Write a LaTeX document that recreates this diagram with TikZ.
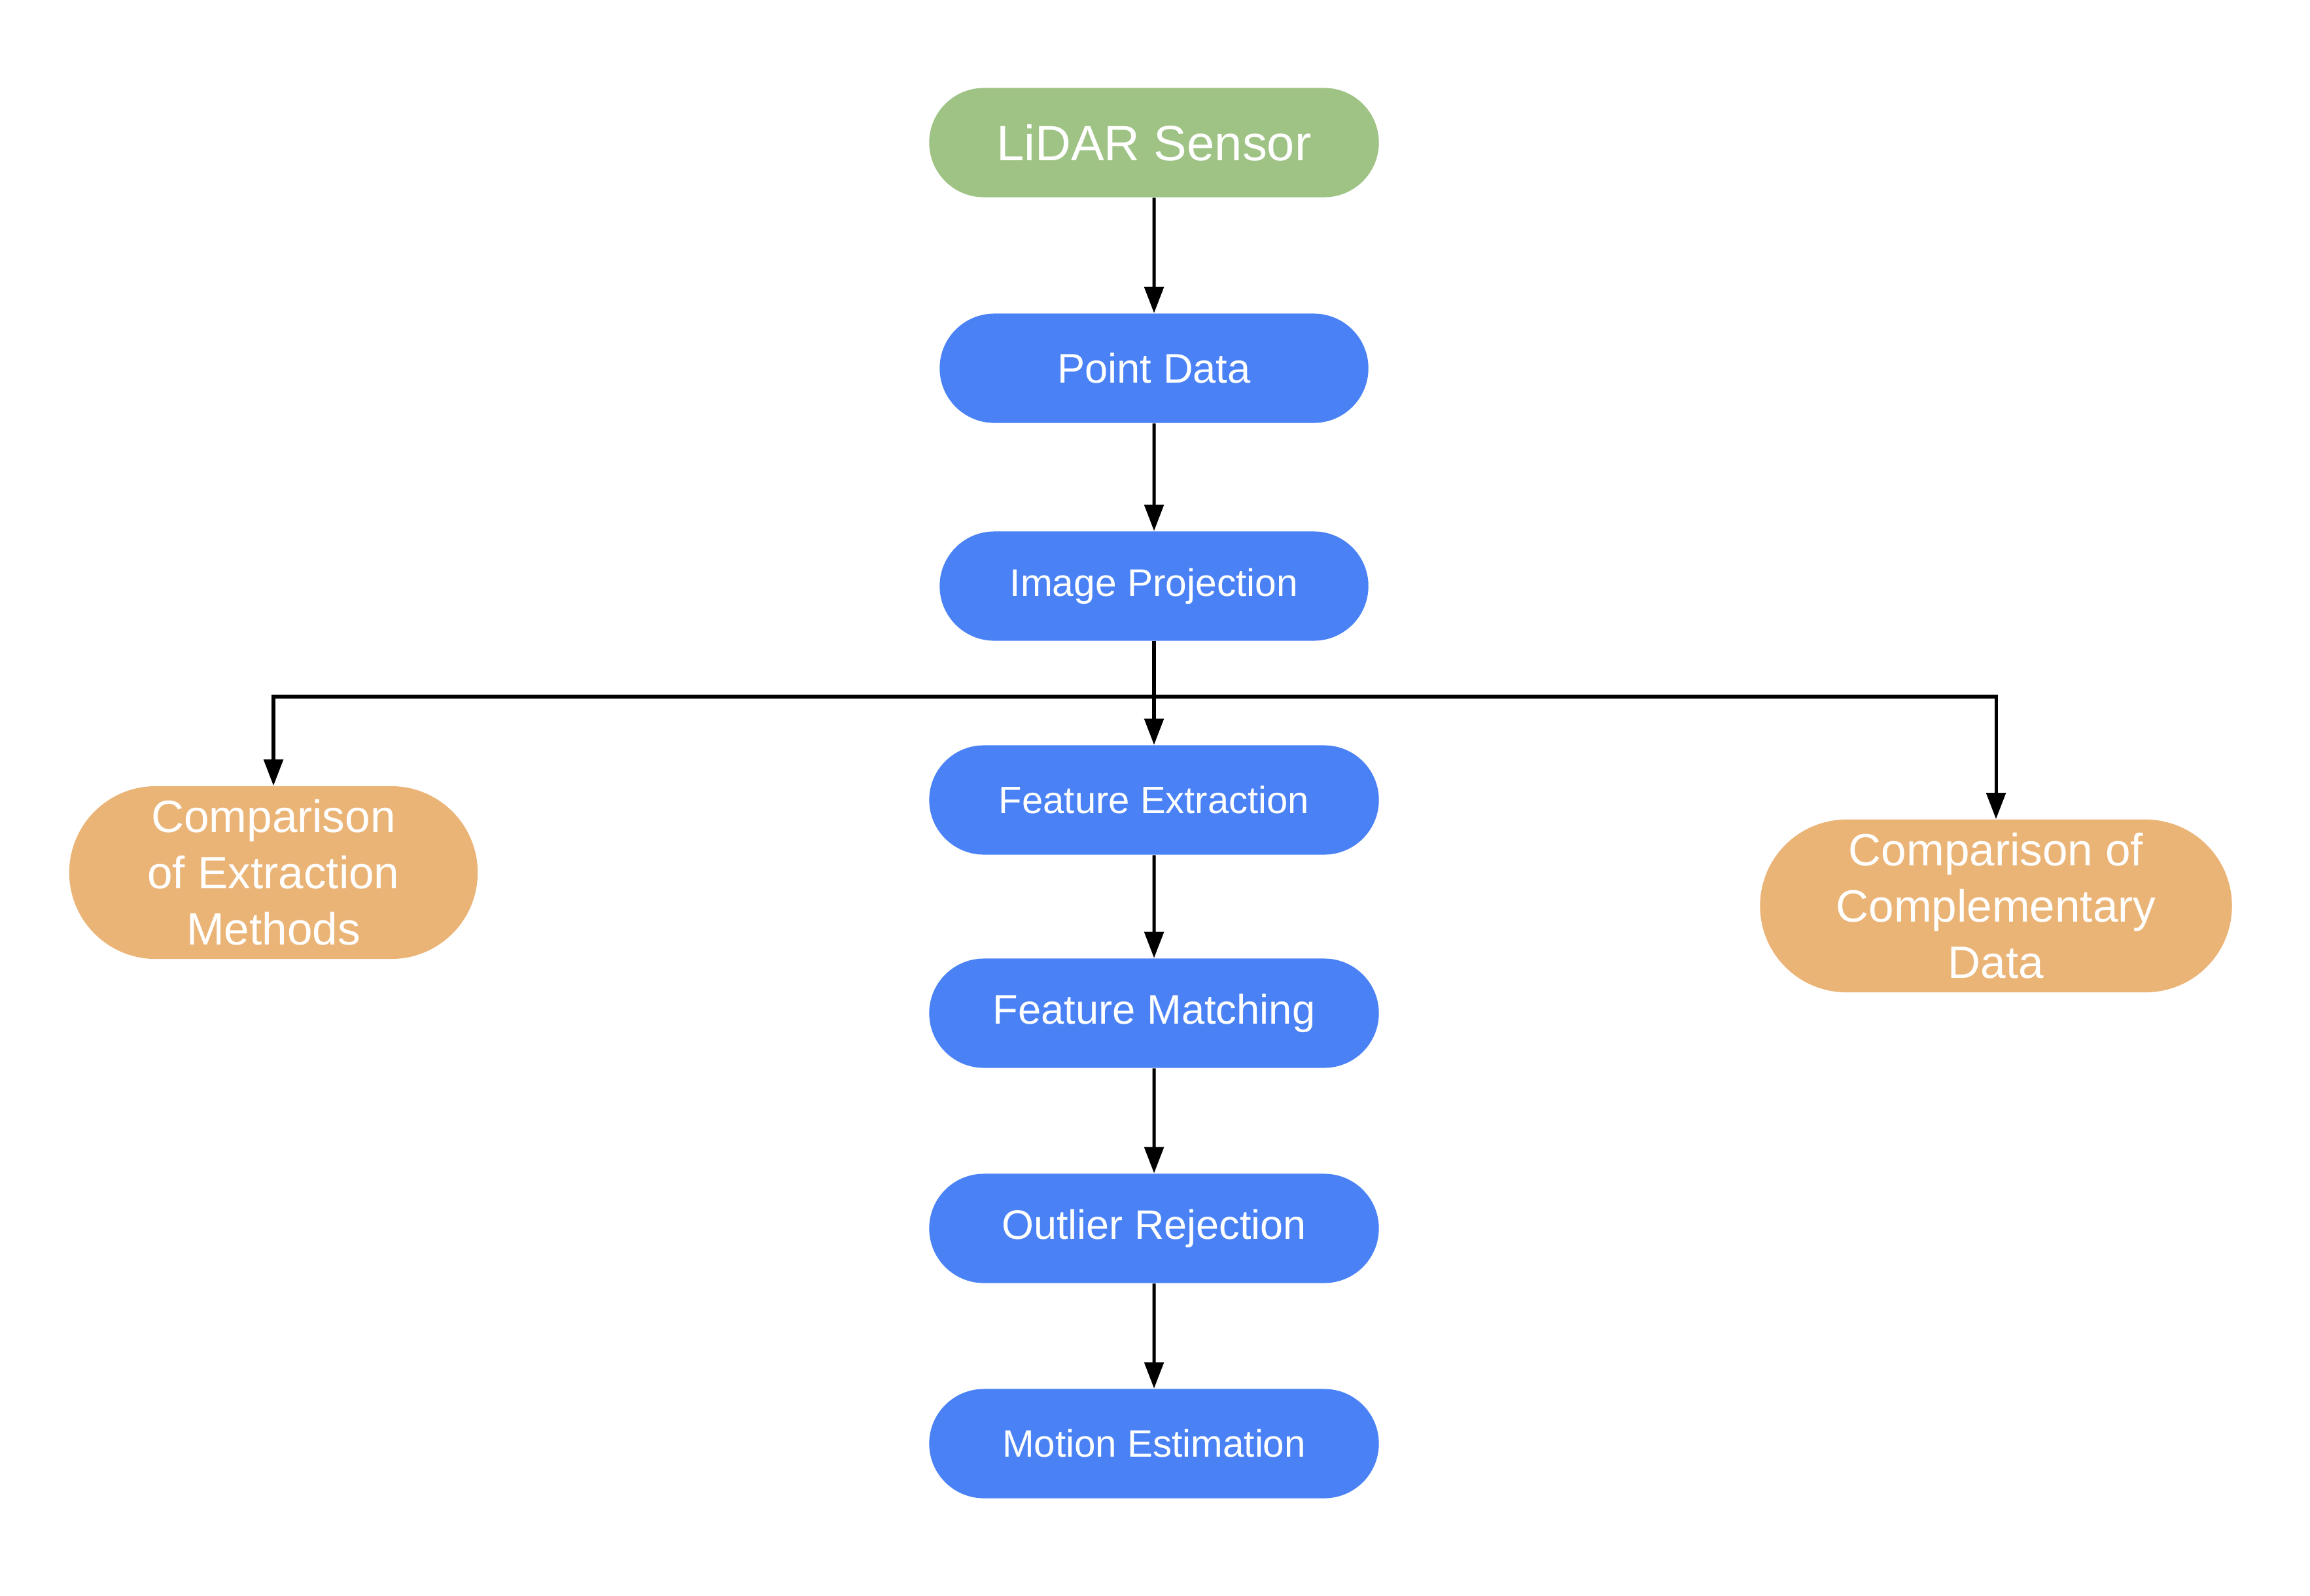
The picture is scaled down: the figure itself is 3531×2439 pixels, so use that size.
\documentclass[tikz,border=0pt]{standalone}
\usepackage{fontspec}
\setmainfont{Liberation Sans}
\usetikzlibrary{shapes.misc,arrows.meta}
\definecolor{cgreen}{RGB}{158,195,133}
\definecolor{cblue}{RGB}{74,130,245}
\definecolor{corange}{RGB}{235,180,119}
\begin{document}
\begin{tikzpicture}[x=0.01cm,y=-0.01cm,
  pill/.style={rounded rectangle, inner sep=0pt, text=white, align=center},
  greenbox/.style={pill, fill=cgreen, minimum width=6.87cm, minimum height=1.67cm},
  bluewide/.style={pill, fill=cblue, minimum width=6.87cm, minimum height=1.67cm},
  bluenarrow/.style={pill, fill=cblue, minimum width=6.55cm, minimum height=1.67cm},
  orangebox/.style={pill, fill=corange, minimum height=2.64cm, font=\fontsize{19.7}{24.4}\selectfont},
  conn/.style={line width=1.45pt, -{Triangle[length=11.4pt,width=8.3pt]}}
]
\useasboundingbox (0,0) rectangle (3531,2439);
\node[greenbox, font=\fontsize{21.6}{26}\selectfont] (lidar) at (1764,218) {LiDAR Sensor};
\node[bluenarrow, font=\fontsize{18}{22}\selectfont] (pd) at (1764,563) {Point Data};
\node[bluenarrow, font=\fontsize{16.7}{20}\selectfont] (ip) at (1764,896) {Image Projection};
\node[bluewide, font=\fontsize{16.5}{20}\selectfont] (fe) at (1764,1223) {Feature Extraction};
\node[bluewide, font=\fontsize{18}{22}\selectfont] (fm) at (1764,1549) {Feature Matching};
\node[bluewide, font=\fontsize{17.9}{22}\selectfont] (orj) at (1764,1878) {Outlier Rejection};
\node[bluewide, font=\fontsize{16.6}{20}\selectfont] (me) at (1764,2207) {Motion Estimation};
\node[orangebox, minimum width=6.24cm] (cmpl) at (418,1334) {Comparison\\of Extraction\\Methods};
\node[orangebox, minimum width=7.21cm] (cmpr) at (3051,1385) {Comparison of\\Complementary\\Data};
\coordinate (split) at (1764,1065);
\draw[conn] (lidar) -- (pd);
\draw[conn] (pd) -- (ip);
\draw[conn] (ip.south) -- (fe.north);
\draw[conn] (ip.south) -- (split) -| (cmpl.north);
\draw[conn] (ip.south) -- (split) -| (cmpr.north);
\draw[conn] (fe) -- (fm);
\draw[conn] (fm) -- (orj);
\draw[conn] (orj) -- (me);
\end{tikzpicture}
\end{document}
